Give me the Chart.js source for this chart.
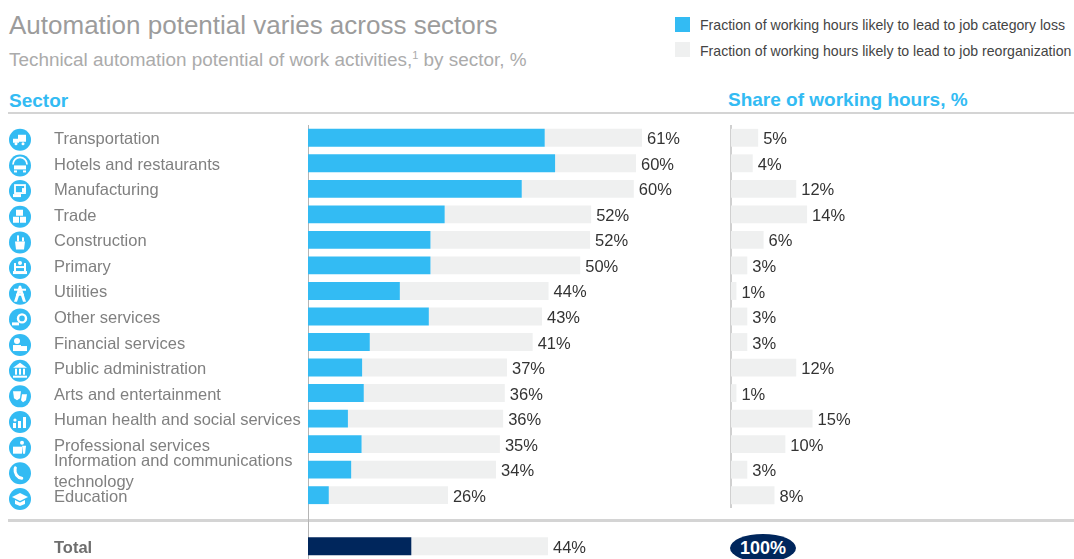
<!DOCTYPE html>
<html>
<head>
    <title>Automation potential varies across sectors</title>
    <script src="https://cdnjs.cloudflare.com/ajax/libs/Chart.js/4.4.1/chart.umd.js"></script>
    <style>
        html, body { margin: 0; padding: 0; background: #fff; overflow: hidden; }
        body { width: 1074px; height: 559px; position: relative; font-family: "Liberation Sans", Arial, sans-serif; }
        .txt { position: absolute; white-space: nowrap; line-height: 1; }
        .rule { position: absolute; left: 8px; right: 0; background: #d4d4d4; }
        .swatch { position: absolute; left: 675px; width: 15px; height: 15px; }
        canvas { position: absolute; top: 125px; }
        sup { font-size: 11px; line-height: 0; }
    </style>
</head>

<body>
    <div class="txt" style="left:9px;top:12px;font-size:26px;color:#9c9c9c">Automation potential varies across sectors</div>
    <div class="txt" style="left:9px;top:51px;font-size:18.9px;color:#ababab">Technical automation potential of work activities,<sup>1</sup> by sector, %</div>

    <div class="swatch" style="top:17px;background:#33bbf3"></div>
    <div class="txt" style="left:700px;top:18px;font-size:14.1px;color:#444">Fraction of working hours likely to lead to job category loss</div>
    <div class="swatch" style="top:42px;background:#eff0f0"></div>
    <div class="txt" style="left:700px;top:44px;font-size:14.1px;color:#444">Fraction of working hours likely to lead to job reorganization</div>

    <div class="txt" style="left:9px;top:91px;font-size:19px;font-weight:bold;color:#33bbf3">Sector</div>
    <div class="txt" style="left:728px;top:90px;font-size:19px;font-weight:bold;color:#33bbf3">Share of working hours, %</div>

    <div class="rule" style="top:112px;height:2px"></div>
    <div class="rule" style="top:519px;height:3px"></div>

    <canvas id="potential" width="718" height="434" style="left:0"></canvas>
    <canvas id="share" width="300" height="383" style="left:730px"></canvas>

    <div class="txt" style="left:730px;top:534px;width:66px;height:28px;border-radius:50%;background:#00265c;color:#fff;font-size:18px;font-weight:bold;text-align:center;line-height:28px">100%</div>

    <script>
		var sectors = ['Transportation', 'Hotels and restaurants', 'Manufacturing', 'Trade', 'Construction', 'Primary',
			'Utilities', 'Other services', 'Financial services', 'Public administration', 'Arts and entertainment',
			'Human health and social services', 'Professional services',
			['Information and communications', 'technology'], 'Education', '', 'Total'];
		var jobLoss = [43.3, 45.2, 39.1, 25.0, 22.4, 22.4, 16.8, 22.1, 11.3, 9.9, 10.2, 7.3, 9.8, 7.9, 3.8, null, 18.9];
		var jobReorg = [17.8, 14.8, 20.5, 26.8, 29.2, 27.4, 27.2, 20.7, 29.8, 26.5, 25.8, 28.4, 25.3, 26.5, 21.8, null, 25.0];
		var potentialLabels = ['61%', '60%', '60%', '52%', '52%', '50%', '44%', '43%', '41%', '37%', '36%', '36%', '35%', '34%', '26%', '', '44%'];
		var shareHours = [5, 4, 12, 14, 6, 3, 1, 3, 3, 12, 1, 15, 10, 3, 8];

		var BLUE = '#33bbf3', GREY = '#eff0f0', NAVY = '#00265c';
		var FONT = '"Liberation Sans", Arial, sans-serif';

		// small white pictograms inside the sector circles
		function box(c, x, y, w, h) { c.fillRect(x, y, w, h); }
		function dot(c, x, y, r) { c.beginPath(); c.arc(x, y, r, 0, Math.PI * 2); c.fill(); }
		function poly(c, pts) {
			c.beginPath();
			pts.forEach(function(p, i) { i ? c.lineTo(p[0], p[1]) : c.moveTo(p[0], p[1]); });
			c.closePath();
			c.fill();
		}
		var icons = [
			function(c) { box(c, -2, -5, 8, 7); box(c, -7, -1, 6, 4); dot(c, -4, 4, 1.5); dot(c, 3, 4, 1.5); },
			function(c) { c.lineWidth = 1.8; c.beginPath(); c.arc(0, -1, 7, Math.PI, 0); c.stroke(); box(c, -6, 0, 12, 4); box(c, -6, 5, 3, 2); box(c, 3, 5, 3, 2); },
			function(c) { c.lineWidth = 1.8; c.strokeRect(-5, -6, 10, 8); box(c, -7, 3, 8, 3); box(c, 2, -3, 4, 4); },
			function(c) { box(c, -7, 0, 6, 6); box(c, 0, 0, 6, 6); box(c, -4, -7, 7, 6); },
			function(c) { poly(c, [[-5, -1], [5, -1], [4, 7], [-4, 7]]); box(c, -3, -7, 2, 6); box(c, 2, -5, 2, 4); },
			function(c) { box(c, -7, 3, 14, 3); box(c, -6, -5, 2, 8); box(c, 4, -5, 2, 8); box(c, -4, -2, 8, 2); dot(c, 0, -5, 2); },
			function(c) { poly(c, [[-1, -8], [1, -8], [6, 8], [3, 8], [0, -1], [-3, 8], [-6, 8]]); box(c, -6, -5, 12, 2); box(c, -4, 0, 8, 2); },
			function(c) { c.lineWidth = 2.4; c.beginPath(); c.arc(2, -1, 4, 0, Math.PI * 2); c.stroke(); box(c, -8, 3, 7, 3); },
			function(c) { dot(c, -3, -4, 3); box(c, -7, 0, 8, 6); box(c, 1, 1, 6, 5); },
			function(c) { poly(c, [[0, -8], [7, -3], [-7, -3]]); box(c, -5, -2, 2, 6); box(c, -1, -2, 2, 6); box(c, 3, -2, 2, 6); box(c, -7, 5, 14, 2); },
			function(c) { poly(c, [[-7, -5], [1, -5], [0, 2], [-3, 4], [-6, 2]]); poly(c, [[2, -2], [7, -2], [6, 4], [3, 6], [1, 4]]); },
			function(c) { box(c, -7, 1, 3, 5); box(c, -2, -1, 3, 7); box(c, 3, -5, 3, 11); dot(c, -5, -2, 1.6); },
			function(c) { box(c, -7, -1, 9, 7); dot(c, 2, -5, 2); poly(c, [[2, -2], [6, -2], [5, 6], [3, 6]]); },
			function(c) { c.lineWidth = 3; c.lineCap = 'round'; c.beginPath(); c.arc(3, -3, 8, Math.PI * 0.55, Math.PI * 1.1); c.stroke(); c.lineCap = 'butt'; },
			function(c) { poly(c, [[0, -6], [8, -2], [0, 2], [-8, -2]]); poly(c, [[-5, 1], [0, 3.5], [5, 1], [5, 5], [0, 7], [-5, 5]]); }
		];

		var sectorIcons = {
			id: 'sectorIcons',
			afterDraw: function(chart) {
				var c = chart.ctx, y = chart.scales.y;
				icons.forEach(function(draw, i) {
					c.save();
					c.translate(20, y.getPixelForValue(i) + 2 + i * 0.13);
					c.fillStyle = BLUE;
					dot(c, 0, 0, 11);
					c.fillStyle = '#fff';
					c.strokeStyle = '#fff';
					draw(c);
					c.restore();
				});
			}
		};

		// value text just past the end of the bar stack
		function endLabels(labels) {
			return {
				id: 'endLabels',
				afterDatasetsDraw: function(chart) {
					var c = chart.ctx;
					var last = chart.getDatasetMeta(chart.data.datasets.length - 1);
					c.save();
					c.font = '16.5px ' + FONT;
					c.fillStyle = '#333';
					c.textAlign = 'left';
					c.textBaseline = 'middle';
					labels.forEach(function(text, i) {
						if (text) c.fillText(text, last.data[i].x + 5, last.data[i].y + 2);
					});
					c.restore();
				}
			};
		}

		function baseOptions(xMax, left, tickWidth, showTicks) {
			return {
				indexAxis: 'y',
				responsive: false,
				animation: false,
				devicePixelRatio: 1,
				layout: { padding: { left: left, right: 0, top: 0, bottom: 0 } },
				plugins: { legend: { display: false }, tooltip: { enabled: false } },
				scales: {
					x: { stacked: true, display: false, min: 0, max: xMax },
					y: {
						stacked: true,
						grid: { display: false, drawTicks: false },
						border: { display: true, color: showTicks ? '#b5b5b5' : '#d0d0d0', width: showTicks ? 1 : 2 },
						afterFit: function(scale) {
							scale.width = tickWidth;
							// keep the rows on an even pitch, first and last label may overhang
							scale.paddingTop = 0;
							scale.paddingBottom = 0;
						},
						ticks: {
							display: showTicks,
							autoSkip: false,
							crossAlign: 'far',
							padding: 0,
							labelOffset: 2,
							color: function(ctx) { return ctx.index === 16 ? '#6e6e6e' : '#808080'; },
							font: function(ctx) {
								return { family: FONT, size: 16.5, lineHeight: 1.25, weight: ctx.index === 16 ? 'bold' : 'normal' };
							}
						}
					}
				}
			};
		}

		window.onload = function() {
			var lossColors = sectors.map(function(s) { return s === 'Total' ? NAVY : BLUE; });

			new Chart(document.getElementById('potential').getContext('2d'), {
				type: 'bar',
				data: {
					labels: sectors,
					datasets: [
						{ label: 'Job category loss', data: jobLoss, backgroundColor: lossColors, categoryPercentage: 1, barPercentage: 0.7 },
						{ label: 'Job reorganization', data: jobReorg, backgroundColor: GREY, categoryPercentage: 1, barPercentage: 0.7 }
					]
				},
				options: baseOptions(75, 54, 254, true),
				plugins: [endLabels(potentialLabels), sectorIcons]
			});

			new Chart(document.getElementById('share').getContext('2d'), {
				type: 'bar',
				data: {
					labels: sectors.slice(0, 15),
					datasets: [
						{ label: 'Share of working hours', data: shareHours, backgroundColor: GREY, categoryPercentage: 1, barPercentage: 0.7 }
					]
				},
				options: baseOptions(55, 0, 1, false),
				plugins: [endLabels(shareHours.map(function(v) { return v + '%'; }))]
			});
		};
    </script>
</body>
</html>
